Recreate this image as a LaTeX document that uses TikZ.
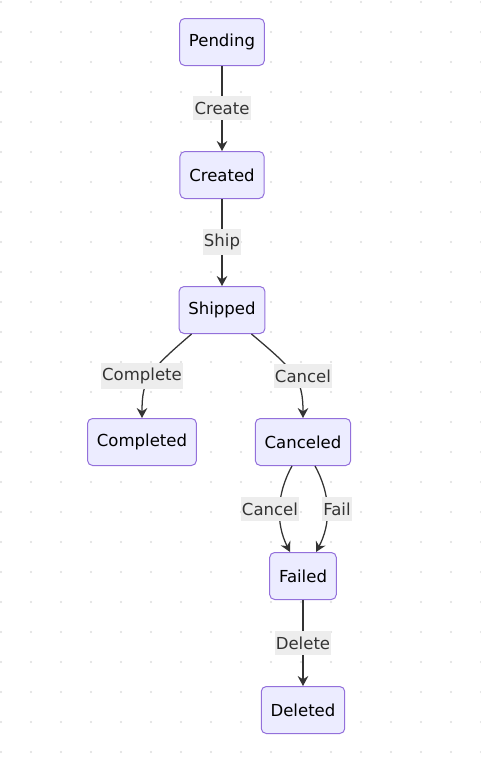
\documentclass[tikz,border=0pt]{standalone}
\usepackage{fontspec}
\setmainfont{DejaVu Sans}
\usetikzlibrary{arrows.meta}
\definecolor{nodefill}{HTML}{ECECFF}
\definecolor{nodeborder}{HTML}{9370DB}
\definecolor{edgecol}{HTML}{333333}
\definecolor{labelbg}{HTML}{EDEDED}
\definecolor{dotcol}{HTML}{DEDEDE}
\begin{document}
\begin{tikzpicture}[x=0.75pt,y=-0.75pt,
  state/.style={draw=nodeborder, fill=nodefill, rounded corners=3.75pt, line width=0.75pt,
    minimum height=35.25pt, inner xsep=7pt, text=black, font=\fontsize{12.4}{14}\selectfont},
  edge/.style={draw=edgecol, line width=0.95pt, -{Stealth[length=7.5pt,width=8pt,inset=2.5pt]}},
  elabel/.style={fill=labelbg, text=edgecol, inner xsep=1pt, inner ysep=4pt,
    font=\fontsize{12.4}{14}\selectfont}]
\useasboundingbox (0,0) rectangle (480,760);
\fill[white] (0,0) rectangle (480,760);
\foreach \i in {0,...,16} \foreach \j in {0,...,25}
  \fill[dotcol] (1+30*\i, 2+30*\j) circle[radius=0.9pt];

\node[state] (pending)   at (222,42)  {Pending};
\node[state] (created)   at (222,175) {Created};
\node[state] (shipped)   at (222,310) {Shipped};
\node[state] (completed) at (142,442) {Completed};
\node[state] (canceled)  at (303,442) {Canceled};
\node[state] (failed)    at (303,576) {Failed};
\node[state] (deleted)   at (303,710) {Deleted};

\draw[edge] (pending) -- (created);
\draw[edge] (created) -- (shipped);
\draw[edge] ([xshift=9.75pt]shipped.south west) .. controls +(-43,37) and +(0,-39) .. (completed.north);
\draw[edge] ([xshift=-10.5pt]shipped.south east) .. controls +(44,37) and +(0,-39) .. (canceled.north);
\draw[edge] ([xshift=-8.25pt]canceled.south) .. controls +(-16,29) and +(-14,-28) .. ([xshift=-9.75pt]failed.north);
\draw[edge] ([xshift=9pt]canceled.south) .. controls +(16,29) and +(15,-28) .. ([xshift=9.75pt]failed.north);
\draw[edge] (failed) -- (deleted);

\node[elabel] (lcreate)   at (222,108) {Create};
\node[elabel] (lship)     at (222,242) {Ship};
\node[elabel] (lcomplete) at (142,376) {Complete};
\node[elabel] (lcancel)   at (303,376) {Cancel};
\node[elabel] (lcancel2)  at (270,509) {Cancel};
\node[elabel] (lfail)     at (337,509) {Fail};
\node[elabel] (ldelete)   at (303,643) {Delete};
\end{tikzpicture}
\end{document}
